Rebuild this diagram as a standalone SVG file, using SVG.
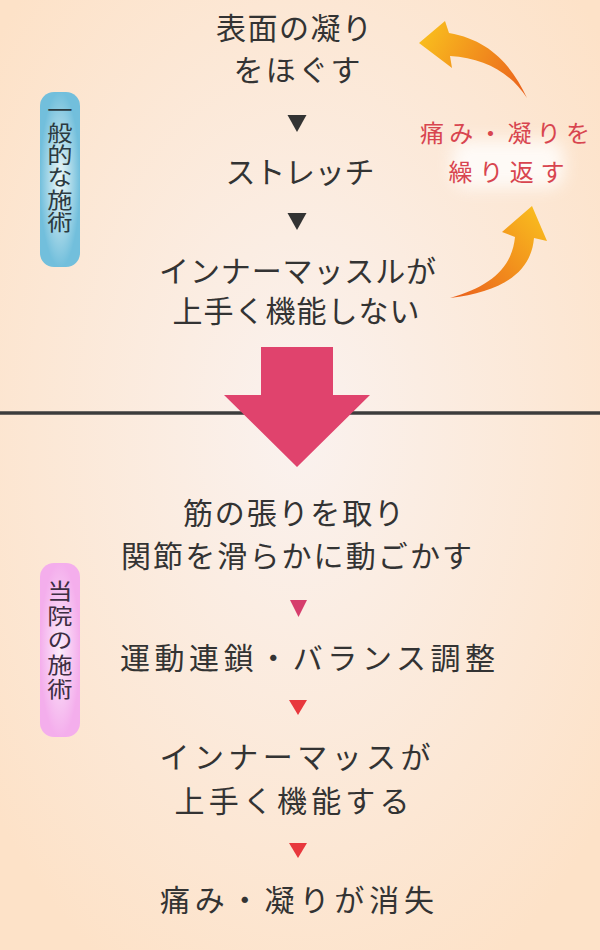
<svg xmlns="http://www.w3.org/2000/svg" width="600" height="950" viewBox="0 0 600 950">
<style>
.t{font-family:"Noto Sans CJK JP","Noto Sans",sans-serif;font-size:30px;fill:#333;text-anchor:middle}
.v{font-family:"Noto Sans CJK JP","Noto Sans",sans-serif;font-size:22px;writing-mode:vertical-rl;text-anchor:start}
.r{font-family:"Noto Sans CJK JP","Noto Sans",sans-serif;font-size:24px;fill:#d8454f;text-anchor:middle}
</style>
<defs>
<radialGradient id="bg" cx="50%" cy="45%" r="65%">
<stop offset="0" stop-color="#faf2ef"/>
<stop offset="1" stop-color="#fde2c8"/>
</radialGradient>
<radialGradient id="blue" cx="50%" cy="50%" r="50%">
<stop offset="0" stop-color="#eef8f8"/>
<stop offset="1" stop-color="#72bfdc"/>
</radialGradient>
<radialGradient id="pink" cx="50%" cy="50%" r="50%">
<stop offset="0" stop-color="#fcecfb"/>
<stop offset="1" stop-color="#f4aeec"/>
</radialGradient>
<linearGradient id="gUp" x1="420" y1="40" x2="527" y2="98" gradientUnits="userSpaceOnUse">
<stop offset="0" stop-color="#f9bd1e"/>
<stop offset="1" stop-color="#ea5f1c"/>
</linearGradient>
<linearGradient id="gDown" x1="540" y1="210" x2="450" y2="298" gradientUnits="userSpaceOnUse">
<stop offset="0" stop-color="#f9bd1e"/>
<stop offset="1" stop-color="#ea5f1c"/>
</linearGradient>
<filter id="blur" x="-30%" y="-30%" width="160%" height="160%">
<feGaussianBlur stdDeviation="8"/>
</filter>
</defs>
<rect width="600" height="950" fill="url(#bg)"/>

<g id="connectors">
<line x1="0" y1="413" x2="600" y2="413" stroke="#3c3c3c" stroke-width="3.5"/>
<polygon points="261,347 333,347 333,395 370,395 297,467 224,395 261,395" fill="#e0436d"/>
<polygon points="287.5,115 306.5,115 297,132" fill="#333"/>
<polygon points="287.5,213 306.5,213 297,230" fill="#333"/>
<polygon points="290,600 307,600 298.5,617" fill="#d63d6c"/>
<polygon points="289,700 307,700 298,715" fill="#e8383d"/>
<polygon points="289,843 307,843 298,858" fill="#e8383d"/>
<path d="M527,98 C512,66 490,40 449,33 L445,21 L419,43 L452,68 L450,56 C484,58 510,72 527,98 Z" fill="url(#gUp)"/>
<path d="M450,298 C490,287 512,268 515,237 L502,232 L532,206 L547,241 L534,238 C531,274 500,292 450,298 Z" fill="url(#gDown)"/>
</g>

<g id="label-general">
<rect x="40" y="92" width="40" height="175" rx="14" fill="url(#blue)"/>
<text class="v" x="60" y="99" fill="#2c3a40" letter-spacing="0.3" transform="translate(60,0) scale(1.15,1) translate(-60,0)">一般的な施術</text>
</g>

<g id="label-ours">
<rect x="40" y="563" width="40" height="174" rx="14" fill="url(#pink)"/>
<text class="v" x="60" y="580" fill="#3d2e42" letter-spacing="2.5" transform="translate(60,0) scale(1.15,1) translate(-60,0)">当院の施術</text>
</g>

<g id="repeat-label">
<rect x="452" y="140" width="112" height="48" rx="16" fill="#ffffff" opacity="0.8" filter="url(#blur)"/>
<text class="r" x="505" y="142" textLength="170" lengthAdjust="spacing">痛み・凝りを</text>
<text class="r" x="506.5" y="181" textLength="116" lengthAdjust="spacing">繰り返す</text>
</g>

<g id="step-1">
<text class="t" x="294" y="39" textLength="156" lengthAdjust="spacing">表面の凝り</text>
<text class="t" x="297" y="81" textLength="127" lengthAdjust="spacing">をほぐす</text>
</g>
<g id="step-2">
<text class="t" x="300" y="183" textLength="149" lengthAdjust="spacing">ストレッチ</text>
</g>
<g id="step-3">
<text class="t" x="297.5" y="282" textLength="277" lengthAdjust="spacing">インナーマッスルが</text>
<text class="t" x="296" y="322" textLength="247" lengthAdjust="spacing">上手く機能しない</text>
</g>

<g id="step-4">
<text class="t" x="293.5" y="524" textLength="221" lengthAdjust="spacing">筋の張りを取り</text>
<text class="t" x="296.5" y="567" textLength="351" lengthAdjust="spacing">関節を滑らかに動ごかす</text>
</g>
<g id="step-5">
<text class="t" x="307.5" y="669" textLength="375" lengthAdjust="spacing">運動連鎖・バランス調整</text>
</g>
<g id="step-6">
<text class="t" x="295" y="768" textLength="271" lengthAdjust="spacing">インナーマッスが</text>
<text class="t" x="292" y="812" textLength="235" lengthAdjust="spacing">上手く機能する</text>
</g>
<g id="step-7">
<text class="t" x="297" y="911" textLength="274" lengthAdjust="spacing">痛み・凝りが消失</text>
</g>
</svg>
